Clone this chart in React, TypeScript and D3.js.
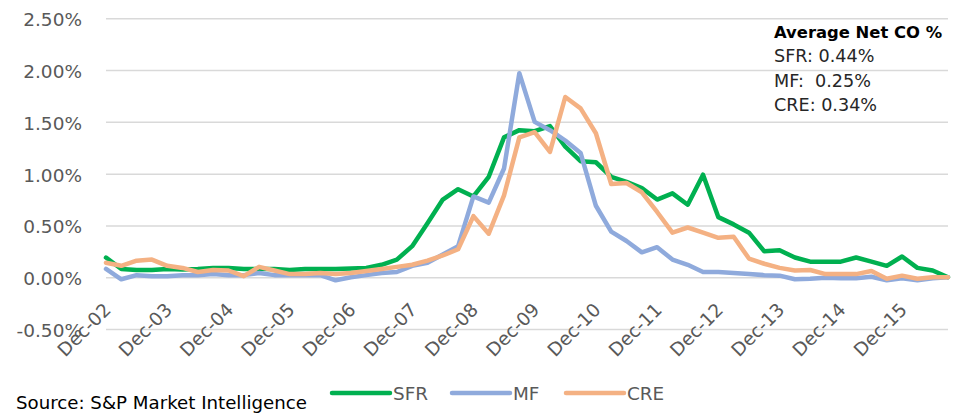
import React, { useEffect, useRef } from 'react';
import * as d3 from 'd3';

// quarterly net charge-off rates (%), Dec-02 .. Sep-16
const sfr = [
  0.19, 0.08, 0.07, 0.07, 0.08, 0.075, 0.08, 0.09, 0.09, 0.08, 0.08, 0.08, 0.07, 0.08, 0.08, 0.08,
  0.085, 0.09, 0.12, 0.17, 0.3, 0.52, 0.75, 0.85, 0.78, 0.97, 1.35, 1.42, 1.41, 1.46, 1.26, 1.12,
  1.11, 0.97, 0.92, 0.86, 0.75, 0.81, 0.7, 0.99, 0.58, 0.51, 0.43, 0.25, 0.26, 0.19, 0.15, 0.15,
  0.15, 0.19, 0.15, 0.11, 0.2, 0.09, 0.065, 0.0,
];
const mf = [
  0.08, -0.02, 0.02, 0.01, 0.01, 0.02, 0.02, 0.03, 0.02, 0.02, 0.04, 0.02, 0.02, 0.02, 0.02, -0.03,
  0.0, 0.02, 0.04, 0.05, 0.11, 0.14, 0.22, 0.3, 0.78, 0.72, 1.05, 1.97, 1.5, 1.42, 1.32, 1.2,
  0.69, 0.44, 0.35, 0.24, 0.29, 0.17, 0.12, 0.05, 0.05, 0.04, 0.03, 0.02, 0.015, -0.02, -0.015, -0.005,
  -0.01, -0.01, 0.005, -0.03, -0.01, -0.03, -0.01, 0.0,
];
const cre = [
  0.14, 0.11, 0.16, 0.17, 0.11, 0.09, 0.05, 0.07, 0.065, 0.01, 0.1, 0.065, 0.03, 0.03, 0.04, 0.03,
  0.04, 0.06, 0.08, 0.1, 0.12, 0.16, 0.21, 0.27, 0.59, 0.42, 0.79, 1.35, 1.4, 1.21, 1.74, 1.63,
  1.39, 0.9, 0.91, 0.82, 0.63, 0.43, 0.48, 0.43, 0.38, 0.39, 0.18, 0.13, 0.09, 0.065, 0.07, 0.03,
  0.03, 0.03, 0.06, -0.015, 0.015, -0.015, 0.0, 0.0,
];

const seriesNames = ['SFR', 'MF', 'CRE'];
const seriesColors = ['#00B050', '#8FAADC', '#F4B183'];
const yTicks = [-0.5, 0, 0.5, 1, 1.5, 2, 2.5];
const noteTitle = 'Average Net CO %';
const noteLines = ['SFR: 0.44%', 'MF:  0.25%', 'CRE: 0.34%'];
const source = 'Source: S&P Market Intelligence';

const fmt = d3.timeFormat('%b-%y');
const quarters = d3.timeMonth.range(new Date(2002, 11, 1), new Date(2016, 9, 1), 3).map(fmt);

const App = () => {
  const ref = useRef<SVGSVGElement>(null);

  useEffect(() => {
    const width = 980;
    const height = 413;
    const marginLeft = 106;
    const marginRight = 32;
    const top = 18.3;
    const bottom = 329;
    const font = 'DejaVu Sans, Verdana, sans-serif';

    const x = d3.scalePoint<string>().domain(quarters).range([marginLeft, width - marginRight]);
    const y = d3.scaleLinear().domain([-0.5, 2.5]).range([bottom, top]);

    const svg = d3.select(ref.current);
    svg.selectAll('*').remove();
    svg.attr('viewBox', [0, 0, width, height]).attr('font-family', font);

    // gridlines + y labels
    svg.append('g')
      .attr('transform', `translate(${marginLeft},0)`)
      .call(d3.axisLeft(y).tickValues(yTicks).tickSize(-(width - marginRight - marginLeft)).tickPadding(24)
        .tickFormat(d => `${(+d).toFixed(2)}%`))
      .call(g => g.select('.domain').remove())
      .call(g => g.selectAll('.tick line').attr('stroke', '#D9D9D9').attr('stroke-width', 1.5))
      .call(g => g.selectAll('.tick text')
        .attr('fill', '#595959')
        .attr('font-size', 18.5)
        .attr('font-family', font)
        .attr('dy', '0.4em'));

    // x labels, rotated
    const decs = quarters.filter(q => q.startsWith('Dec'));
    svg.append('g')
      .selectAll('text')
      .data(decs)
      .join('text')
      .attr('transform', d => `translate(${x(d)! + 6},311) rotate(-45)`)
      .attr('text-anchor', 'end')
      .attr('fill', '#595959')
      .attr('font-size', 18.5)
      .text(d => d);

    const line = d3.line<number>()
      .x((_, i) => x(quarters[i])!)
      .y(d => y(d));

    const g = svg.append('g')
      .attr('fill', 'none')
      .attr('stroke-width', 4.5)
      .attr('stroke-linejoin', 'round')
      .attr('stroke-linecap', 'round');

    [sfr, mf, cre].forEach((values, k) => {
      g.append('path')
        .attr('d', line(values))
        .attr('stroke', seriesColors[k]);
    });

    // average note
    const note = svg.append('g').attr('transform', 'translate(774,0)');
    note.append('text')
      .attr('y', 38)
      .attr('font-weight', 'bold')
      .attr('font-size', 16.4)
      .attr('fill', '#000')
      .text(noteTitle);
    note.selectAll('text.line')
      .data(noteLines)
      .join('text')
      .attr('class', 'line')
      .attr('y', (_, i) => 62 + i * 24.5)
      .attr('font-size', 17.6)
      .attr('fill', '#262626')
      .style('white-space', 'pre')
      .text(d => d);

    // legend
    const legendX = [332, 452, 566];
    const legend = svg.append('g');
    seriesNames.forEach((name, k) => {
      legend.append('line')
        .attr('x1', legendX[k]).attr('x2', legendX[k] + 58)
        .attr('y1', 393).attr('y2', 393)
        .attr('stroke', seriesColors[k])
        .attr('stroke-width', 4.5)
        .attr('stroke-linecap', 'round');
      legend.append('text')
        .attr('x', legendX[k] + 61)
        .attr('y', 393)
        .attr('dy', '0.36em')
        .attr('font-size', 18.4)
        .attr('fill', '#595959')
        .text(name);
    });

    svg.append('text')
      .attr('x', 16)
      .attr('y', 409)
      .attr('font-size', 18.2)
      .attr('fill', '#000')
      .text(source);
  }, []);

  return (
    <svg
      ref={ref}
      width={980}
      height={413}
      style={{ position: 'absolute', left: 0, top: 0, background: '#fff' }}
    />
  );
};

export default App;
